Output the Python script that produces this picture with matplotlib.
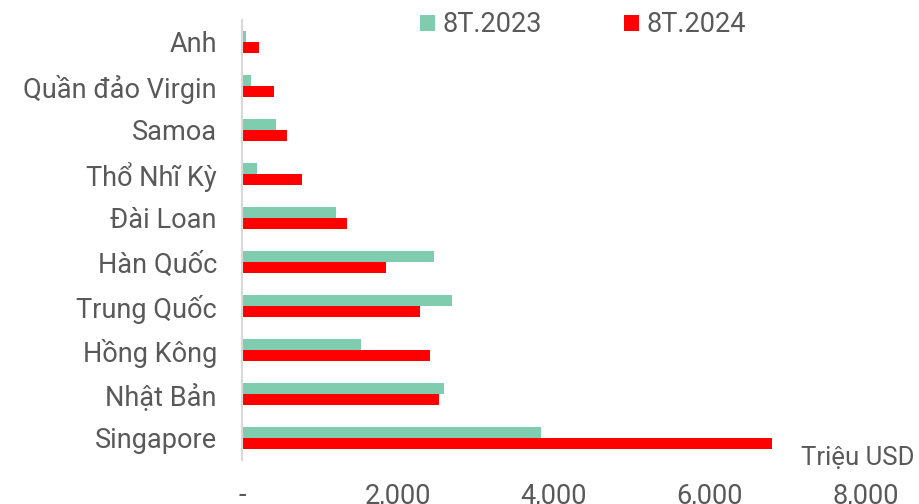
import matplotlib
matplotlib.use("Agg")
import matplotlib.pyplot as plt
import numpy as np
from matplotlib.ticker import FixedLocator

categories = ["Singapore", "Nhật Bản", "Hồng Kông", "Trung Quốc", "Hàn Quốc",
              "Đài Loan", "Thổ Nhĩ Kỳ", "Samoa", "Quần đảo Virgin", "Anh"]
v2023 = [3830, 2590, 1525, 2690, 2460, 1205, 190, 435, 115, 50]
v2024 = [6795, 2525, 2410, 2280, 1845, 1345, 770, 577, 410, 218]
series_names = ["8T.2023", "8T.2024"]
xticks = [0, 2000, 4000, 6000, 8000]
xticklabels = ["-", "2,000", "4,000", "6,000", "8,000"]

plt.rcParams['font.family'] = ['Roboto', 'DejaVu Sans']
TXT = "#595959"
GREEN = "#7fcdae"
RED = "#ff0000"
FS = 19.5

fig = plt.figure(figsize=(9.2, 5.04), dpi=100)
ax = fig.add_axes([242/920, 1-460/504, (866-242)/920, 440/504])

y = np.arange(len(categories))
h = 0.25
ax.barh(y + h/2, v2023, height=h, color=GREEN, label=series_names[0])
ax.barh(y - h/2, v2024, height=h, color=RED, label=series_names[1])

ax.set_xlim(0, 8000)
ax.set_ylim(-0.5, len(categories) - 0.5)
ax.set_yticks(y)
ax.set_yticklabels(categories, fontsize=FS, color=TXT)
ax.xaxis.set_major_locator(FixedLocator(xticks))
ax.set_xticklabels(xticklabels, fontsize=FS, color=TXT)
ax.tick_params(axis='both', length=0)
ax.tick_params(axis='x', pad=16)
ax.tick_params(axis='y', pad=18)

for s in ['top', 'right', 'bottom']:
    ax.spines[s].set_visible(False)
ax.spines['left'].set_color("#d9d9d9")
ax.spines['left'].set_linewidth(1.5)

fig.text(915/920, 1-458/504, "Triệu USD", ha='right', va='center',
         fontsize=18.5, color=TXT)

leg = fig.legend(loc='center', bbox_to_anchor=(583/920, 1-25/504), ncol=2,
                 frameon=False, fontsize=FS, handlelength=0.55, handleheight=0.55,
                 handletextpad=0.3, columnspacing=3.0)
for t in leg.get_texts():
    t.set_color(TXT)

fig.savefig("out.png", dpi=100)
